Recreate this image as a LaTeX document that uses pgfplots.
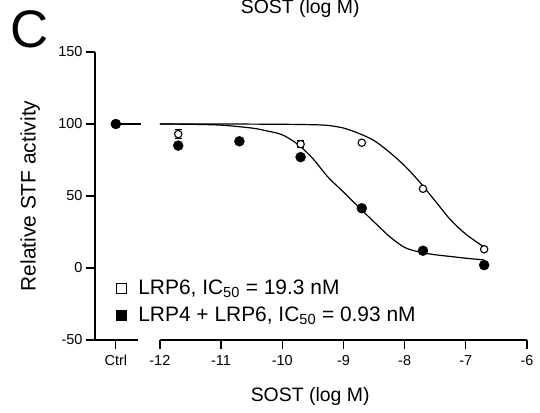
\documentclass[border=0pt]{standalone}
\usepackage{fontspec}
\setmainfont{Liberation Sans}
\usepackage{pgfplots}
\pgfplotsset{compat=1.18}

\begin{document}
\begin{tikzpicture}
\begin{axis}[
  at={(0,0)}, anchor=south west,
  width=432bp, height=288bp, scale only axis,
  xmin=-13.06, xmax=-6, ymin=-50, ymax=150,
  axis lines=left,
  axis line style={-, line width=1.5bp},
  x axis line style={draw=none},
  tick align=outside,
  major tick length=9bp,
  tick style={black, line width=1.3bp},
  xtick={-12.72,-12,-11,-10,-9,-8,-7,-6},
  xticklabels={Ctrl,-12,-11,-10,-9,-8,-7,-6},
  ytick={-50,0,50,100,150},
  yticklabels={-50,0,50,100,150},
  xticklabel style={font=\fontsize{14.5}{16}\selectfont, yshift=-3bp},
  yticklabel style={font=\fontsize{14.5}{16}\selectfont},
  xlabel={SOST (log M)},
  ylabel={Relative STF activity},
  xlabel style={font=\fontsize{19.5}{23}\selectfont,
    at={(axis description cs:0.498,-0.212)}, anchor=base},
  ylabel style={font=\fontsize{21}{24}\selectfont,
    at={(axis description cs:-0.150,0.5)}, anchor=center},
  clip=false,
  legend style={at={(axis description cs:0.049,0.216)}, anchor=north west,
    draw=none, fill=none, inner sep=0pt, row sep=7bp, column sep=10bp,
    nodes={inner sep=2bp},
    font=\fontsize{21}{24}\selectfont},
  legend cell align=left,
]

% legend keys are squares, the data marks circles
\addlegendimage{only marks, mark=square*, mark size=5bp, mark options={fill=white, draw=black, line width=1bp}}
\addlegendentry{LRP6, IC\textsubscript{50} = 19.3 nM}
\addlegendimage{only marks, mark=square*, mark size=5bp, black}
\addlegendentry{LRP4 + LRP6, IC\textsubscript{50} = 0.93 nM}

% fitted curves
\addplot[black, line width=1.2bp, smooth, forget plot] coordinates {
  (-12,100) (-11,100) (-10,99.8) (-9.5,99.5) (-9.25,99) (-9,97.2)
  (-8.75,93.5) (-8.5,88.5) (-8.25,80.5) (-8,71) (-7.75,59.5)
  (-7.5,46.5) (-7.25,33.5) (-7,23.5) (-6.7,14.5)};
\addplot[black, line width=1.2bp, smooth, forget plot] coordinates {
  (-12,100) (-11.5,99.8) (-11,99.2) (-10.5,97.2) (-10.25,95.2) (-10,92.5)
  (-9.75,86) (-9.5,76) (-9.25,63) (-9,52.8) (-8.75,42.3) (-8.5,32)
  (-8.25,22) (-8,14.3) (-7.75,11) (-7.5,9.2) (-7.25,8) (-7,6.8) (-6.7,5.6)};
\addplot[black, line width=1.2bp, forget plot] coordinates {(-12.72,100) (-12.31,100)};

% error bars of LRP6
\addplot[only marks, mark=none, forget plot,
  error bars/.cd, y dir=both, y explicit,
  error bar style={black, line width=1bp},
  error mark options={rotate=90, mark size=3.5bp, line width=1bp, black}]
  coordinates {(-11.70,93) +- (0,3) (-9.70,86) +- (0,2.5)};

% LRP6
\addplot[only marks, mark=*, mark size=3.7bp, forget plot,
  mark options={fill=white, draw=black, line width=1.1bp}] coordinates {
  (-12.72,100) (-11.70,93) (-10.70,88) (-9.70,86) (-8.70,87) (-7.70,55) (-6.70,13)};

% LRP4 + LRP6
\addplot[only marks, mark=*, mark size=5bp, black, forget plot] coordinates {
  (-12.72,100) (-11.70,85) (-10.70,88) (-9.70,77) (-8.70,41.5) (-7.70,12) (-6.70,2)};

% broken x axis
\draw[line width=1.5bp] (axis cs:-13.06,-50) -- (axis cs:-12.36,-50);
\draw[line width=1.5bp] (axis cs:-12,-50) -- (axis cs:-6,-50);
\draw[line width=1.3bp] (axis cs:-12.36,-50) ++(0,6bp) -- ++(0,-14bp);
\draw[line width=1.3bp] (axis cs:-12,-50) ++(0,6bp) -- ++(0,-14bp);

\node[anchor=base, font=\fontsize{19.5}{23}\selectfont] at (axis description cs:0.475,1.132) {SOST (log M)};
\node[anchor=base west, font=\fontsize{53}{60}\selectfont] at (axis description cs:-0.203,1.014) {C};
\end{axis}
\pgfresetboundingbox
\path[use as bounding box] (-95bp,-73bp) rectangle (445bp,340bp);
\end{tikzpicture}
\end{document}
